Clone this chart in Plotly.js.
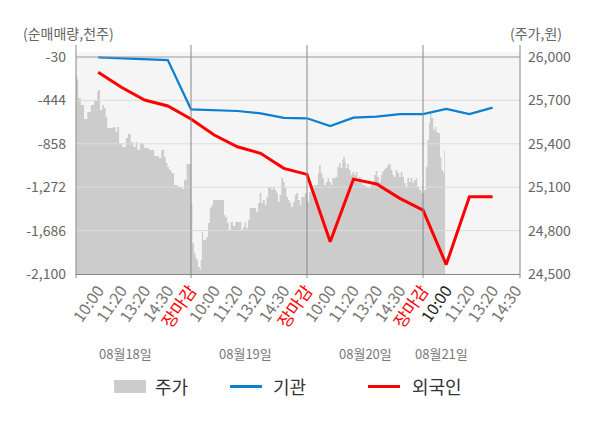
<!DOCTYPE html>
<html><head><meta charset="utf-8">
<script src="https://cdn.plot.ly/plotly-3.0.1.min.js"></script>
<style>html,body{margin:0;padding:0;background:#fff}#chart{width:600px;height:428px}</style>
</head><body><div id="chart"></div>
<script>
// ---- data ----
const slotLabels = ['10:00','11:20','13:20','14:30','장마감',
                    '10:00','11:20','13:20','14:30','장마감',
                    '10:00','11:20','13:20','14:30','장마감',
                    '10:00','11:20','13:20','14:30'];
const lineSlots = [1,2,3,4,5,6,7,8,9,10,11,12,13,14,15,16,17,18];
const instFlow = [-33,-43,-52,-59,-529,-536,-545,-567,-610,-615,-688,-609,-599,-574,-574,-526,-574,-513];
const foreignFlow = [-176,-319,-440,-497,-621,-774,-886,-949,-1092,-1150,-1792,-1195,-1241,-1378,-1490,-2010,-1363,-1363];

const priceT = [
 0,0.10,0.14,0.25,0.39,0.53,0.68,0.82,0.96,0.99,1.08,1.18,1.25,1.32,1.39,1.54,1.65,1.75,1.82,1.90,
 2.04,2.19,2.28,2.40,2.51,2.62,2.69,2.80,2.97,3.19,3.41,3.62,3.72,3.84,3.91,3.98,4.05,4.15,4.27,4.44,
 4.62,4.70,4.81,4.91,
 5.01,5.06,5.13,5.19,5.23,5.30,5.38,5.42,5.47,5.52,5.66,5.73,5.81,5.88,5.95,6.38,6.42,6.48,6.56,6.63,
 6.71,6.81,6.91,7.10,7.17,7.24,7.31,7.38,7.46,7.53,7.75,7.81,7.89,7.96,8.03,8.10,8.18,8.25,8.32,8.39,
 8.46,8.53,8.61,8.68,8.75,8.82,8.89,8.97,9.04,9.11,9.18,9.25,9.32,9.40,9.47,9.54,9.61,9.69,9.75,9.90,
 10.01,10.04,10.09,10.16,10.23,10.30,10.42,10.47,10.52,10.59,10.66,10.73,10.81,10.88,10.95,11.02,11.09,11.24,11.31,11.38,
 11.45,11.52,11.56,11.63,11.67,11.74,11.81,11.88,11.95,12.03,12.10,12.17,12.24,12.31,12.38,12.53,12.67,12.75,12.81,12.89,
 12.96,13.03,13.10,13.18,13.25,13.32,13.39,13.46,13.53,13.61,13.68,13.75,13.82,13.89,13.97,14.04,14.11,14.18,14.25,14.32,
 14.40,14.47,14.54,14.61,14.69,14.75,14.83,14.93,
 15.04,15.12,15.19,15.26,15.30,15.36,15.44,15.50,15.57,15.65,15.73,15.79,15.87,15.92,15.95];
const priceV = [
 25870,25841,25717,25668,25571,25620,25668,25703,25758,25772,25634,25668,25647,25585,25509,25509,25516,25481,25516,25405,
 25378,25440,25468,25412,25378,25412,25357,25405,25371,25357,25316,25302,25357,25309,25267,25240,25219,25198,25115,25101,
 25088,25150,25260,25260,
 24991,24714,24645,24618,24597,24548,24528,24597,24790,24735,24756,24853,24956,24977,25012,25012,24908,24894,24853,24804,
 24859,24832,24859,24859,24804,24825,24859,24818,24873,24956,24956,24929,24991,25060,24991,25012,24977,25032,25094,25101,
 25081,25101,25081,25060,24998,25046,25164,25136,25094,25032,25012,24991,24963,24998,25046,25060,25012,24977,25032,25060,
 25012,24998,25067,25115,25081,25115,25115,25198,25253,25198,25164,25115,25136,25164,25136,25115,25164,25170,25240,25267,
 25233,25288,25309,25274,25233,25260,25219,25184,25205,25184,25205,25136,25170,25150,25115,25101,25094,25115,25136,25184,
 25212,25170,25136,25184,25212,25226,25233,25253,25260,25219,25184,25170,25219,25198,25170,25205,25170,25129,25101,25164,
 25136,25164,25129,25150,25164,25101,25081,25060,
 25081,25240,25426,25544,25613,25578,25495,25516,25481,25475,25309,25219,25198,25357,25357];

const flowTicks = [-30,-444,-858,-1272,-1686,-2100];
const priceTicks = [24500,24800,25100,25400,25700,26000];
const dayBounds = [5,10,15];
const dateLabels = ['08월18일','08월19일','08월20일','08월21일'];
const dateLabelSlots = [2.16,7.33,12.5,15.78];
const seriesNames = ['주가','기관','외국인'];

// ---- styling ----
const FONT = '"Noto Sans CJK KR","Noto Sans",sans-serif';
const L = 76, R = 80, T = 52, B = 154, W = 600, H = 428;
const PW = W - L - R, PH = H - T - B;
const px = x => (x - L) / PW;
const py = y => (H - B - y) / PH;
const xRange = [0.043, 19.18];
const GRAY = '#cccccc', BLUE = '#0a80d0', RED = '#ff0000';

const tickText = slotLabels.map((s, i) => {
  if (s === '장마감') return '<span style="color:#ff0000;font-size:17px">' + s + '</span>';
  if (i === 15) return '<span style="color:#222222">' + s + '</span>';
  return s;
});

// inner gridlines as a trace so they sit above the price area
const gx = [], gy = [];
flowTicks.slice(1, -1).forEach(v => { gx.push(xRange[0], xRange[1], null); gy.push(v, v, null); });

const traces = [
  {x: priceT, y: priceV, type: 'scatter', mode: 'lines', name: seriesNames[0],
   line: {shape: 'hv', width: 0, color: GRAY}, fill: 'tozeroy', fillcolor: GRAY,
   yaxis: 'y', hoverinfo: 'skip', showlegend: false},
  {x: gx, y: gy, type: 'scatter', mode: 'lines', line: {color: '#dddddd', width: 1},
   yaxis: 'y2', hoverinfo: 'skip', showlegend: false},
  {x: lineSlots, y: instFlow, type: 'scatter', mode: 'lines', name: seriesNames[1],
   line: {color: BLUE, width: 2.2}, yaxis: 'y2', showlegend: false},
  {x: lineSlots, y: foreignFlow, type: 'scatter', mode: 'lines', name: seriesNames[2],
   line: {color: RED, width: 3}, yaxis: 'y2', showlegend: false}
];

const vExt = {y0: py(278), y1: py(45)};
const shapes = [];
dayBounds.forEach(d => shapes.push({type: 'line', xref: 'x', yref: 'paper', x0: d, x1: d, y0: vExt.y0, y1: vExt.y1,
  line: {color: '#888888', width: 1}}));
[0, 1].forEach(p => shapes.push({type: 'line', xref: 'paper', yref: 'paper', x0: p, x1: p, y0: vExt.y0, y1: vExt.y1,
  line: {color: '#888888', width: 1}}));
shapes.push({type: 'line', xref: 'paper', yref: 'y2', x0: 0, x1: 1, y0: flowTicks[0], y1: flowTicks[0],
  line: {color: '#999999', width: 1}});
// legend swatches
shapes.push({type: 'rect', xref: 'paper', yref: 'paper', x0: px(114), x1: px(146), y0: py(393), y1: py(380),
  fillcolor: GRAY, line: {width: 0}});
shapes.push({type: 'line', xref: 'paper', yref: 'paper', x0: px(230), x1: px(262), y0: py(386.5), y1: py(386.5),
  line: {color: BLUE, width: 3}});
shapes.push({type: 'line', xref: 'paper', yref: 'paper', x0: px(368), x1: px(400), y0: py(386.5), y1: py(386.5),
  line: {color: RED, width: 3}});

const annotations = [
  {text: '(순매매량,천주)', xref: 'paper', yref: 'paper', x: px(21), y: py(33), xanchor: 'left', yanchor: 'middle',
   showarrow: false, font: {size: 14, color: '#666666', family: FONT}},
  {text: '(주가,원)', xref: 'paper', yref: 'paper', x: px(508), y: py(33), xanchor: 'left', yanchor: 'middle',
   showarrow: false, font: {size: 14, color: '#666666', family: FONT}}
];
dateLabels.forEach((t, i) => annotations.push({text: t, xref: 'x', yref: 'paper', x: dateLabelSlots[i], y: py(353),
  xanchor: 'center', yanchor: 'middle', showarrow: false, font: {size: 13, color: '#777777', family: FONT}}));
const legX = [153, 271, 410];
seriesNames.forEach((n, i) => annotations.push({text: n, xref: 'paper', yref: 'paper', x: px(legX[i]), y: py(386),
  xanchor: 'left', yanchor: 'middle', showarrow: false, font: {size: 18, color: '#333333', family: FONT}}));

const layout = {
  width: W, height: H, margin: {l: L, r: R, t: T, b: B, pad: 0},
  paper_bgcolor: '#ffffff', plot_bgcolor: '#f5f5f5',
  font: {family: FONT, size: 14, color: '#666666'},
  showlegend: false,
  xaxis: {range: xRange, tickmode: 'array', tickvals: slotLabels.map((_, i) => i + 1), ticktext: tickText,
    tickangle: -55, tickfont: {size: 16, color: '#777777', family: FONT}, showgrid: false, zeroline: false,
    showline: true, linecolor: '#888888', linewidth: 1, ticks: '', fixedrange: true},
  yaxis: {side: 'right', range: [24500, 26034.5], tickmode: 'array', tickvals: priceTicks, tickformat: ',d',
    showgrid: false, zeroline: false, ticks: '', showline: false, ticklabelstandoff: 7,
    tickfont: {size: 14, color: '#666666', family: FONT}, fixedrange: true},
  yaxis2: {overlaying: 'y', side: 'left', range: [-2100, 17.8], tickmode: 'array', tickvals: flowTicks,
    ticktext: flowTicks.map(v => v.toLocaleString('en-US')), showgrid: false, zeroline: false, ticks: '',
    showline: false, ticklabelstandoff: 9, tickfont: {size: 14, color: '#666666', family: FONT}, fixedrange: true},
  shapes: shapes, annotations: annotations
};

Plotly.newPlot('chart', traces, layout, {displayModeBar: false, staticPlot: true});
</script></body></html>
